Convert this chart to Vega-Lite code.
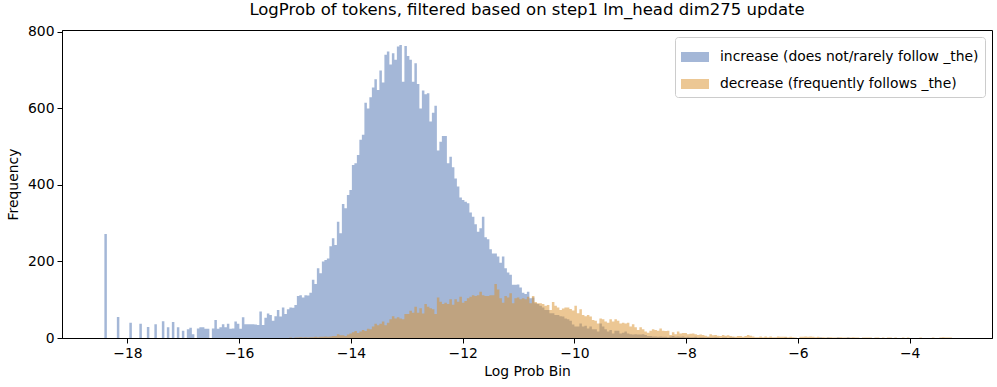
{
"$schema": "https://vega.github.io/schema/vega-lite/v6.json",
"width": 930,
"height": 308,
"autosize": {"type": "none"},
"padding": {"left": 62, "top": 30, "right": 5, "bottom": 49},
"background": "white",
"title": {"text": "LogProb of tokens, filtered based on step1 lm_head dim275 update", "fontSize": 16.5, "font": "DejaVu Sans", "fontWeight": "normal", "color": "black", "offset": 6, "anchor": "middle"},
"config": {
  "font": "DejaVu Sans",
  "view": {"stroke": "black", "strokeWidth": 1},
  "axis": {"grid": false, "domainColor": "black", "tickColor": "black", "labelColor": "black", "titleColor": "black", "labelFontSize": 13.9, "titleFontSize": 13.9, "titleFontWeight": "normal", "tickSize": 5, "labelPadding": 3, "labelFont": "DejaVu Sans", "titleFont": "DejaVu Sans"},
  "axisX": {"titlePadding": 5},
  "axisY": {"titlePadding": 7},
  "legend": {"orient": "top-right", "offset": 7, "padding": 6, "fillColor": "white", "strokeColor": "#cccccc", "cornerRadius": 3, "labelFontSize": 13.9, "labelFont": "DejaVu Sans", "labelColor": "black", "labelLimit": 400, "symbolType": "M-1,-0.357L1,-0.357L1,0.357L-1,0.357Z", "symbolSize": 784, "symbolStrokeWidth": 0, "labelOffset": 11, "rowPadding": 6}
},
"layer": [
{
"data": {"values": [
{"x":-18.436,"n":0},{"x":-18.391,"n":272},{"x":-18.347,"n":0},{"x":-18.212,"n":0},{"x":-18.168,"n":55},{"x":-18.123,"n":0},{"x":-17.989,"n":0},{"x":-17.944,"n":40},{"x":-17.899,"n":0},{"x":-17.810,"n":0},{"x":-17.765,"n":37},{"x":-17.720,"n":0},{"x":-17.675,"n":0},{"x":-17.631,"n":29},{"x":-17.586,"n":0},{"x":-17.541,"n":0},{"x":-17.496,"n":36},{"x":-17.452,"n":0},{"x":-17.407,"n":0},{"x":-17.362,"n":44},{"x":-17.317,"n":0},{"x":-17.273,"n":28},{"x":-17.228,"n":0},{"x":-17.183,"n":42},{"x":-17.138,"n":0},{"x":-17.094,"n":28},{"x":-17.049,"n":0},{"x":-17.004,"n":19},{"x":-16.960,"n":0},{"x":-16.915,"n":23},{"x":-16.870,"n":27},{"x":-16.825,"n":10},{"x":-16.780,"n":0},{"x":-16.736,"n":25},{"x":-16.691,"n":28},{"x":-16.646,"n":28},{"x":-16.601,"n":24},{"x":-16.557,"n":24},{"x":-16.512,"n":0},{"x":-16.467,"n":25},{"x":-16.422,"n":47},{"x":-16.378,"n":24},{"x":-16.333,"n":28},{"x":-16.288,"n":36},{"x":-16.243,"n":28},{"x":-16.199,"n":37},{"x":-16.154,"n":24},{"x":-16.109,"n":25},{"x":-16.064,"n":43},{"x":-16.020,"n":37},{"x":-15.975,"n":24},{"x":-15.930,"n":54},{"x":-15.885,"n":36},{"x":-15.841,"n":36},{"x":-15.796,"n":36},{"x":-15.751,"n":36},{"x":-15.706,"n":35},{"x":-15.662,"n":34},{"x":-15.617,"n":69},{"x":-15.572,"n":34},{"x":-15.527,"n":53},{"x":-15.483,"n":64},{"x":-15.438,"n":60},{"x":-15.393,"n":45},{"x":-15.348,"n":57},{"x":-15.304,"n":73},{"x":-15.259,"n":56},{"x":-15.214,"n":80},{"x":-15.169,"n":63},{"x":-15.125,"n":75},{"x":-15.080,"n":80},{"x":-15.035,"n":79},{"x":-14.990,"n":86},{"x":-14.946,"n":110},{"x":-14.901,"n":112},{"x":-14.856,"n":106},{"x":-14.811,"n":112},{"x":-14.767,"n":111},{"x":-14.722,"n":118},{"x":-14.677,"n":152},{"x":-14.632,"n":141},{"x":-14.588,"n":182},{"x":-14.543,"n":169},{"x":-14.498,"n":200},{"x":-14.453,"n":204},{"x":-14.409,"n":208},{"x":-14.364,"n":240},{"x":-14.319,"n":261},
{"x":-14.274,"n":243},{"x":-14.230,"n":304},{"x":-14.185,"n":274},{"x":-14.140,"n":350},{"x":-14.095,"n":339},{"x":-14.051,"n":374},{"x":-14.006,"n":387},{"x":-13.961,"n":452},{"x":-13.916,"n":457},{"x":-13.872,"n":478},{"x":-13.827,"n":518},{"x":-13.782,"n":531},{"x":-13.737,"n":615},{"x":-13.693,"n":600},{"x":-13.648,"n":629},{"x":-13.603,"n":655},{"x":-13.558,"n":676},{"x":-13.514,"n":648},{"x":-13.469,"n":699},{"x":-13.424,"n":668},{"x":-13.379,"n":740},{"x":-13.335,"n":749},{"x":-13.290,"n":715},{"x":-13.245,"n":744},{"x":-13.200,"n":727},{"x":-13.156,"n":762},{"x":-13.111,"n":766},{"x":-13.066,"n":670},{"x":-13.021,"n":763},{"x":-12.977,"n":737},{"x":-12.932,"n":727},{"x":-12.887,"n":670},{"x":-12.842,"n":718},{"x":-12.798,"n":664},{"x":-12.753,"n":600},{"x":-12.708,"n":647},{"x":-12.663,"n":637},{"x":-12.619,"n":640},{"x":-12.574,"n":566},{"x":-12.529,"n":589},{"x":-12.484,"n":607},{"x":-12.440,"n":490},{"x":-12.395,"n":513},{"x":-12.350,"n":528},{"x":-12.305,"n":528},{"x":-12.261,"n":457},{"x":-12.216,"n":474},{"x":-12.171,"n":446},{"x":-12.126,"n":417},{"x":-12.082,"n":396},{"x":-12.037,"n":367},{"x":-11.992,"n":361},{"x":-11.947,"n":356},{"x":-11.903,"n":352},{"x":-11.858,"n":328},{"x":-11.813,"n":317},{"x":-11.768,"n":297},{"x":-11.724,"n":278},{"x":-11.679,"n":287},{"x":-11.634,"n":317},{"x":-11.589,"n":263},{"x":-11.545,"n":258},
{"x":-11.500,"n":232},{"x":-11.455,"n":221},{"x":-11.410,"n":221},{"x":-11.366,"n":213},{"x":-11.321,"n":197},{"x":-11.276,"n":213},{"x":-11.231,"n":182},{"x":-11.187,"n":171},{"x":-11.142,"n":165},{"x":-11.097,"n":139},{"x":-11.052,"n":139},{"x":-11.008,"n":140},{"x":-10.963,"n":132},{"x":-10.918,"n":118},{"x":-10.873,"n":115},{"x":-10.829,"n":121},{"x":-10.784,"n":104},{"x":-10.739,"n":106},{"x":-10.694,"n":91},{"x":-10.650,"n":89},{"x":-10.605,"n":84},{"x":-10.560,"n":80},{"x":-10.515,"n":73},{"x":-10.471,"n":73},{"x":-10.426,"n":65},{"x":-10.381,"n":65},{"x":-10.336,"n":60},{"x":-10.292,"n":60},{"x":-10.247,"n":57},{"x":-10.202,"n":56},{"x":-10.157,"n":51},{"x":-10.113,"n":49},{"x":-10.068,"n":45},{"x":-10.023,"n":35},
{"x":-9.978,"n":30},{"x":-9.934,"n":30},{"x":-9.889,"n":38},{"x":-9.844,"n":30},{"x":-9.799,"n":32},{"x":-9.755,"n":25},{"x":-9.710,"n":30},{"x":-9.665,"n":23},{"x":-9.620,"n":23},{"x":-9.576,"n":17},{"x":-9.531,"n":38},{"x":-9.486,"n":30},{"x":-9.441,"n":23},{"x":-9.397,"n":17},{"x":-9.352,"n":21},{"x":-9.307,"n":12},{"x":-9.262,"n":19},{"x":-9.218,"n":19},{"x":-9.173,"n":12},{"x":-9.128,"n":14},{"x":-9.083,"n":17},{"x":-9.039,"n":12},{"x":-8.994,"n":10},{"x":-8.949,"n":9},{"x":-8.904,"n":10},{"x":-8.860,"n":9},{"x":-8.815,"n":9},{"x":-8.770,"n":10},{"x":-8.725,"n":8},{"x":-8.681,"n":5},{"x":-8.636,"n":5},{"x":-8.591,"n":4},{"x":-8.546,"n":4},{"x":-8.502,"n":3},{"x":-8.457,"n":4},{"x":-8.412,"n":3},{"x":-8.367,"n":3},{"x":-8.323,"n":2},
{"x":-8.278,"n":4},{"x":-8.233,"n":5},{"x":-8.188,"n":3},{"x":-8.144,"n":4},{"x":-8.099,"n":3},{"x":-8.054,"n":4},{"x":-8.009,"n":2},{"x":-7.965,"n":3},{"x":-7.920,"n":2},{"x":-7.875,"n":2},{"x":-7.830,"n":3},{"x":-7.786,"n":1},{"x":-7.741,"n":2},{"x":-7.696,"n":2},{"x":-7.651,"n":1},{"x":-7.607,"n":2},{"x":-7.562,"n":1},{"x":-7.517,"n":1},{"x":-7.472,"n":2},{"x":-7.428,"n":1},{"x":-7.383,"n":0},{"x":-7.338,"n":1},{"x":-7.293,"n":1},{"x":-7.249,"n":0},{"x":-7.204,"n":1},{"x":-7.159,"n":1},{"x":-7.114,"n":0},{"x":-6.264,"n":0},{"x":-6.219,"n":1},{"x":-6.175,"n":0},{"x":-5.638,"n":0},{"x":-5.593,"n":1},{"x":-5.548,"n":0},{"x":-5.503,"n":0},{"x":-5.459,"n":1},{"x":-5.414,"n":0},{"x":-5.324,"n":0},{"x":-5.280,"n":1},{"x":-5.235,"n":0},{"x":-5.145,"n":0},{"x":-5.101,"n":1},{"x":-5.056,"n":0}
]},
"mark": {"type": "area", "interpolate": "step", "opacity": 0.5},
"encoding": {
  "x": {"field": "x", "type": "quantitative", "scale": {"domain": [-19.172, -2.526], "nice": false, "zero": false}, "axis": {"values": [-18, -16, -14, -12, -10, -8, -6, -4], "format": "d", "title": "Log Prob Bin"}},
  "y": {"field": "n", "type": "quantitative", "stack": null, "scale": {"domain": [0, 805], "nice": false}, "axis": {"values": [0, 100, 200, 300, 400, 500, 600, 700, 800], "title": "Frequency"}},
  "color": {"datum": "increase (does not/rarely follow _the)", "type": "nominal", "scale": {"domain": ["increase (does not/rarely follow _the)", "decrease (frequently follows _the)"], "range": ["#4a70b0", "#d9902a"]}, "legend": {"title": null}}
}
},
{
"data": {"values": [
{"x":-15.125,"n":0},{"x":-15.080,"n":1},{"x":-15.035,"n":0},{"x":-14.990,"n":1},{"x":-14.946,"n":1},{"x":-14.901,"n":2},{"x":-14.856,"n":1},{"x":-14.811,"n":2},{"x":-14.767,"n":1},{"x":-14.722,"n":2},{"x":-14.677,"n":2},{"x":-14.632,"n":3},{"x":-14.588,"n":2},{"x":-14.543,"n":3},{"x":-14.498,"n":3},{"x":-14.453,"n":4},{"x":-14.409,"n":3},
{"x":-14.364,"n":4},{"x":-14.319,"n":5},{"x":-14.274,"n":5},{"x":-14.230,"n":10},{"x":-14.185,"n":7},{"x":-14.140,"n":7},{"x":-14.095,"n":5},{"x":-14.051,"n":9},{"x":-14.006,"n":12},{"x":-13.961,"n":15},{"x":-13.916,"n":18},{"x":-13.872,"n":13},{"x":-13.827,"n":17},{"x":-13.782,"n":21},{"x":-13.737,"n":18},{"x":-13.693,"n":24},{"x":-13.648,"n":23},{"x":-13.603,"n":30},{"x":-13.558,"n":37},{"x":-13.514,"n":33},{"x":-13.469,"n":37},{"x":-13.424,"n":43},{"x":-13.379,"n":33},{"x":-13.335,"n":40},{"x":-13.290,"n":49},{"x":-13.245,"n":57},{"x":-13.200,"n":51},{"x":-13.156,"n":54},{"x":-13.111,"n":51},{"x":-13.066,"n":49},{"x":-13.021,"n":63},{"x":-12.977,"n":63},{"x":-12.932,"n":71},{"x":-12.887,"n":66},{"x":-12.842,"n":82},{"x":-12.798,"n":66},{"x":-12.753,"n":78},{"x":-12.708,"n":64},{"x":-12.663,"n":89},{"x":-12.619,"n":82},{"x":-12.574,"n":78},{"x":-12.529,"n":75},{"x":-12.484,"n":63},{"x":-12.440,"n":106},{"x":-12.395,"n":95},{"x":-12.350,"n":89},{"x":-12.305,"n":92},{"x":-12.261,"n":89},{"x":-12.216,"n":101},{"x":-12.171,"n":87},{"x":-12.126,"n":101},{"x":-12.082,"n":95},{"x":-12.037,"n":108},{"x":-11.992,"n":92},{"x":-11.947,"n":97},{"x":-11.903,"n":104},{"x":-11.858,"n":108},{"x":-11.813,"n":112},{"x":-11.768,"n":110},{"x":-11.724,"n":112},{"x":-11.679,"n":121},{"x":-11.634,"n":112},{"x":-11.589,"n":110},{"x":-11.545,"n":110},
{"x":-11.500,"n":112},{"x":-11.455,"n":112},{"x":-11.410,"n":141},{"x":-11.366,"n":127},{"x":-11.321,"n":104},{"x":-11.276,"n":92},{"x":-11.231,"n":110},{"x":-11.187,"n":106},{"x":-11.142,"n":117},{"x":-11.097,"n":91},{"x":-11.052,"n":104},{"x":-11.008,"n":106},{"x":-10.963,"n":101},{"x":-10.918,"n":104},{"x":-10.873,"n":101},{"x":-10.829,"n":108},{"x":-10.784,"n":91},{"x":-10.739,"n":110},{"x":-10.694,"n":94},{"x":-10.650,"n":91},{"x":-10.605,"n":91},{"x":-10.560,"n":89},{"x":-10.515,"n":84},{"x":-10.471,"n":86},{"x":-10.426,"n":73},{"x":-10.381,"n":94},{"x":-10.336,"n":84},{"x":-10.292,"n":80},{"x":-10.247,"n":73},{"x":-10.202,"n":77},{"x":-10.157,"n":80},{"x":-10.113,"n":80},{"x":-10.068,"n":76},{"x":-10.023,"n":72},
{"x":-9.978,"n":84},{"x":-9.934,"n":65},{"x":-9.889,"n":75},{"x":-9.844,"n":60},{"x":-9.799,"n":57},{"x":-9.755,"n":60},{"x":-9.710,"n":56},{"x":-9.665,"n":47},{"x":-9.620,"n":45},{"x":-9.576,"n":38},{"x":-9.531,"n":51},{"x":-9.486,"n":49},{"x":-9.441,"n":43},{"x":-9.397,"n":40},{"x":-9.352,"n":49},{"x":-9.307,"n":43},{"x":-9.262,"n":49},{"x":-9.218,"n":45},{"x":-9.173,"n":38},{"x":-9.128,"n":40},{"x":-9.083,"n":38},{"x":-9.039,"n":40},{"x":-8.994,"n":30},{"x":-8.949,"n":36},{"x":-8.904,"n":28},{"x":-8.860,"n":21},{"x":-8.815,"n":28},{"x":-8.770,"n":23},{"x":-8.725,"n":17},{"x":-8.681,"n":14},{"x":-8.636,"n":19},{"x":-8.591,"n":23},{"x":-8.546,"n":21},{"x":-8.502,"n":19},{"x":-8.457,"n":25},{"x":-8.412,"n":19},{"x":-8.367,"n":18},{"x":-8.323,"n":19},
{"x":-8.278,"n":8},{"x":-8.233,"n":15},{"x":-8.188,"n":10},{"x":-8.144,"n":17},{"x":-8.099,"n":12},{"x":-8.054,"n":13},{"x":-8.009,"n":13},{"x":-7.965,"n":10},{"x":-7.920,"n":11},{"x":-7.875,"n":12},{"x":-7.830,"n":10},{"x":-7.786,"n":8},{"x":-7.741,"n":9},{"x":-7.696,"n":8},{"x":-7.651,"n":6},{"x":-7.607,"n":4},{"x":-7.562,"n":10},{"x":-7.517,"n":7},{"x":-7.472,"n":8},{"x":-7.428,"n":6},{"x":-7.383,"n":5},{"x":-7.338,"n":8},{"x":-7.293,"n":6},{"x":-7.249,"n":7},{"x":-7.204,"n":5},{"x":-7.159,"n":4},{"x":-7.114,"n":3},{"x":-7.070,"n":5},{"x":-7.025,"n":5},{"x":-6.980,"n":3},{"x":-6.935,"n":5},{"x":-6.891,"n":8},{"x":-6.846,"n":6},{"x":-6.801,"n":4},{"x":-6.756,"n":2},{"x":-6.712,"n":2},{"x":-6.667,"n":4},{"x":-6.622,"n":2},{"x":-6.577,"n":4},{"x":-6.533,"n":2},{"x":-6.488,"n":4},{"x":-6.443,"n":2},{"x":-6.398,"n":2},{"x":-6.354,"n":4},{"x":-6.309,"n":3},{"x":-6.264,"n":3},
{"x":-6.219,"n":3},{"x":-6.175,"n":2},{"x":-6.130,"n":3},{"x":-6.085,"n":2},{"x":-6.040,"n":1},{"x":-5.996,"n":0},{"x":-5.951,"n":3},{"x":-5.906,"n":3},{"x":-5.861,"n":4},{"x":-5.817,"n":3},{"x":-5.772,"n":4},{"x":-5.727,"n":3},{"x":-5.682,"n":2},{"x":-5.638,"n":3},{"x":-5.593,"n":1},{"x":-5.548,"n":2},{"x":-5.503,"n":1},{"x":-5.459,"n":1},{"x":-5.414,"n":2},{"x":-5.369,"n":1},{"x":-5.324,"n":1},{"x":-5.280,"n":1},{"x":-5.235,"n":2},{"x":-5.190,"n":1},{"x":-5.145,"n":1},{"x":-5.101,"n":1},{"x":-5.056,"n":1},{"x":-5.011,"n":2},{"x":-4.966,"n":1},{"x":-4.922,"n":1},{"x":-4.877,"n":0},{"x":-4.832,"n":1},{"x":-4.787,"n":1},{"x":-4.743,"n":1},{"x":-4.698,"n":1},{"x":-4.653,"n":0},{"x":-4.608,"n":1},{"x":-4.564,"n":1},{"x":-4.519,"n":0},{"x":-4.474,"n":1},{"x":-4.430,"n":0},{"x":-4.385,"n":1},{"x":-4.340,"n":1},{"x":-4.296,"n":0},{"x":-4.251,"n":1},{"x":-4.206,"n":0},{"x":-4.161,"n":0},{"x":-4.116,"n":1},{"x":-4.072,"n":0},{"x":-4.027,"n":1},{"x":-3.982,"n":0},{"x":-3.848,"n":0},{"x":-3.803,"n":1},{"x":-3.759,"n":0},{"x":-3.624,"n":0},{"x":-3.580,"n":1},{"x":-3.535,"n":0},{"x":-3.490,"n":0},{"x":-3.445,"n":1},{"x":-3.400,"n":2},{"x":-3.356,"n":1},{"x":-3.311,"n":1},{"x":-3.266,"n":1},{"x":-3.221,"n":0}
]},
"mark": {"type": "area", "interpolate": "step", "opacity": 0.5},
"encoding": {
  "x": {"field": "x", "type": "quantitative"},
  "y": {"field": "n", "type": "quantitative", "stack": null},
  "color": {"datum": "decrease (frequently follows _the)", "type": "nominal"}
}
}
]
}
